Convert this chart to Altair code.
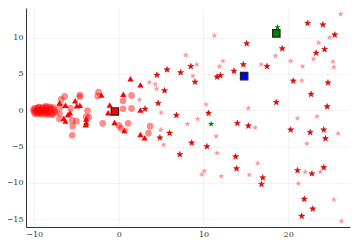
import altair as alt
import pandas as pd

# ---- data ----
circ_x = [-10.1, -10.0, -9.9, -9.8, -9.7, -9.6, -9.5, -9.4, -9.3, -9.2, -9.1, -9.0, -8.9, -8.8,
          -8.7, -8.6, -8.5, -8.4, -8.2, -8.0, -7.8, -7.6, -7.5, -9.9, -9.6, -9.3, -9.0, -8.7,
          -8.4, -8.1, -9.5, -9.0, -8.5, -7.9, -8.3, -7.7,
          -6.4, -6.8, -4.6, -4.6, -2.4, -2.5, 0.5, 0.5, 1.5, 1.5, -6.9, -7.0, -7.0, -5.5, -5.0,
          -5.45, -3.7, -3.55, -5.7, -3.85, -1.9, 0.0, 0.27, 1.1, 3.7, 3.5, -5.5]
circ_y = [0.1, -0.2, 0.3, 0.0, -0.3, 0.2, -0.1, 0.35, 0.0, -0.35, 0.15, 0.4, -0.2, 0.1,
          -0.45, 0.3, -0.05, 0.5, -0.3, 0.2, -0.5, 0.05, -0.25, -0.45, -0.5, -0.4, -0.55, 0.55,
          -0.6, 0.45, 0.45, 0.0, -0.4, -0.6, 0.1, 0.35,
          1.9, 1.5, 2.1, 1.85, 2.5, 1.95, 1.3, 0.2, 0.25, 2.05, 0.5, -0.4, -1.2, -1.4, -1.5,
          -2.2, -0.05, -0.95, 0.27, -0.9, -1.8, -2.1, -2.5, -1.8, -2.2, -3.15, -3.45]

tri_x = [-7.0, -6.3, -5.15, -4.96, -4.6, -5.76, -6.0, -6.5, -6.3, -3.85, -3.85, -3.9, -2.06,
         -1.07, -1.26, -0.5, 1.38, 2.55, 0.53, 2.55, 0.65, 2.55, 3.05]
tri_y = [1.0, 0.7, 1.3, 0.63, 0.7, -0.33, -0.6, -1.1, -1.5, -1.2, -1.7, -2.0, 2.1,
         0.73, -0.35, -1.7, 4.35, 3.5, 2.2, 0.04, -2.8, -3.35, -3.8]

star_x = [4.5, 5.7, 5.4, 4.65, 3.1, 6.8, 4.85, 6.0, 7.2, 8.5, 7.3, 9.0, 8.6, 15.1, 14.7, 17.5,
          11.6, 12.0, 13.6, 18.6, 10.6, 14.0, 15.3, 10.4, 13.8, 13.9, 17.0, 16.85, 22.3, 24.1,
          25.5, 19.3, 24.3, 23.3, 20.6, 24.7, 22.7, 24.6, 20.3, 22.6, 24.2, 24.4, 21.1, 22.8,
          24.2, 21.9, 22.9, 21.6]
star_y = [4.85, 5.6, 2.7, 0.96, 0.18, -0.7, -3.8, -3.15, -6.1, 6.05, 5.2, 3.9, -4.5, 9.2, 6.3,
          6.05, 4.6, 4.8, 5.4, 1.1, -0.4, -1.8, -2.15, -5.0, -6.4, -8.05, -9.3, -10.2, 12.0,
          11.8, 10.4, 8.5, 8.4, 7.9, 4.05, 3.8, 2.2, 0.5, -2.7, -3.05, -2.7, -3.9, -8.3, -8.75,
          -7.9, -12.25, -13.6, -14.6]

lstar_x = [3.6, 4.3, 4.46, 2.45, 5.0, 0.9, 4.95, 5.3, 7.9, 9.2, 8.75, 9.3, 8.1, 11.3, 18.5,
           12.3, 11.9, 16.8, 10.3, 15.3, 26.2, 24.9, 23.6, 23.0, 25.3, 20.3, 21.7, 25.4, 21.6,
           16.1, 11.5, 11.6, 16.4, 10.1, 9.8, 12.1, 15.4, 21.1, 23.4, 25.9, 22.2, 22.0, 23.8,
           21.2, 25.4, 26.3]
lstar_y = [3.85, 3.6, 2.95, 1.45, -0.33, -2.7, -2.7, -4.75, 7.6, 6.3, 4.7, -1.2, -1.9, 10.3,
           7.5, 6.8, 6.05, 6.3, 0.8, 0.27, 13.25, 10.05, 9.3, 7.1, 6.7, 6.8, 6.05, 5.95, 4.1,
           -2.4, -3.6, -5.9, -7.3, -8.4, -8.85, -9.1, -8.9, -1.1, -0.87, -3.2, -4.6, -8.5,
           -8.5, -10.1, -12.3, -15.3]

gstar_x = [18.75, 10.9]
gstar_y = [11.45, -1.9]

sq_x = [-0.47, 14.8, 18.6]
sq_y = [-0.17, 4.7, 10.6]
sq_c = ["red", "blue", "green"]

x_ticks = [-10, 0, 10, 20]
y_ticks = [-15, -10, -5, 0, 5, 10]

STAR = ("M0,-1L0.235,-0.324L0.951,-0.309L0.380,0.124L0.588,0.809L0,0.4"
        "L-0.588,0.809L-0.380,0.124L-0.951,-0.309L-0.235,-0.324Z")

xs = alt.Scale(domain=[-10.96, 27.3], nice=False, zero=False)
ys = alt.Scale(domain=[-16.1, 14.1], nice=False, zero=False)
xa = alt.Axis(values=x_ticks, title=None)
ya = alt.Axis(values=y_ticks, title=None)


def layer(xv, yv, **mk):
    df = pd.DataFrame({"x": xv, "y": yv})
    return alt.Chart(df).mark_point(filled=True, **mk).encode(
        x=alt.X("x:Q", scale=xs, axis=xa),
        y=alt.Y("y:Q", scale=ys, axis=ya),
    )


circles = layer(circ_x, circ_y, shape="circle", color="red", opacity=0.45, size=45)
tris = layer(tri_x, tri_y, shape="triangle-up", color="red", opacity=1, size=40)
lstars = layer(lstar_x, lstar_y, shape=STAR, color="red", opacity=0.4, size=42)
stars = layer(star_x, star_y, shape=STAR, color="red", opacity=1, size=42,
              stroke="#990000", strokeWidth=0.4)
gstars = layer(gstar_x, gstar_y, shape=STAR, color="green", opacity=1, size=42)

sq_df = pd.DataFrame({"x": sq_x, "y": sq_y, "c": sq_c})
squares = alt.Chart(sq_df).mark_point(
    shape="square", filled=True, size=55, stroke="#222", strokeWidth=1.2, opacity=1
).encode(
    x=alt.X("x:Q", scale=xs, axis=xa),
    y=alt.Y("y:Q", scale=ys, axis=ya),
    fill=alt.Fill("c:N", scale=None, legend=None),
)

chart = alt.layer(circles, tris, lstars, stars, gstars, squares).properties(
    width=324, height=219,
    autosize=alt.AutoSizeParams(type="none"),
    padding={"left": 18, "top": 0, "right": 1, "bottom": 13},
).configure_view(stroke=None).configure_axis(
    grid=True, gridColor="#000", gridOpacity=0.08, gridWidth=0.6,
    domainColor="#333", domainWidth=1, ticks=False,
    labelFont="DejaVu Serif", labelFontSize=8, labelColor="#333", labelPadding=3,
)

chart.save("out.html", embed_options={"renderer": "svg", "actions": False})
